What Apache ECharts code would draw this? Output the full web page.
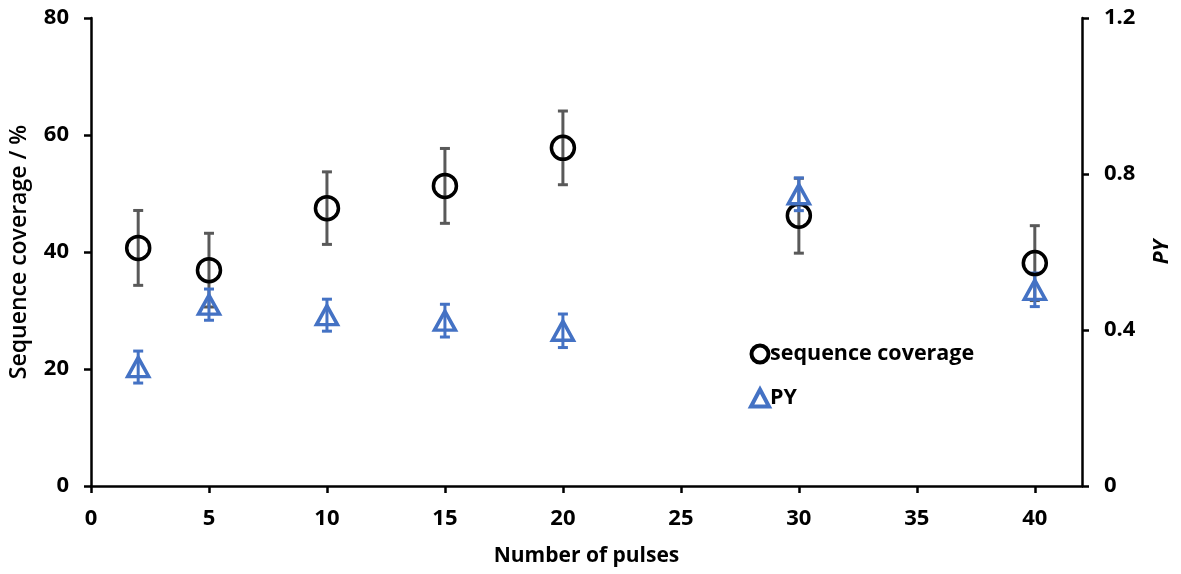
<!DOCTYPE html>
<html>
<head>
<meta charset="utf-8">
<script src="https://cdn.jsdelivr.net/npm/echarts@6/dist/echarts.min.js"></script>
<style>
  html, body { margin: 0; padding: 0; background: #fff; }
  #chart { width: 1181px; height: 574px; }
</style>
</head>
<body>
<div id="chart"></div>
<script>
// Number of pulses on the x axis
const pulses = [2, 5, 10, 15, 20, 30, 40];
// Sequence coverage (%) with standard deviation
const coverage = [40.7, 36.9, 47.5, 51.3, 57.8, 46.2, 38.1];
const coverageErr = [6.4, 6.3, 6.2, 6.4, 6.3, 6.4, 6.4];
// PY values with standard deviation
const py = [0.305, 0.465, 0.438, 0.424, 0.398, 0.748, 0.503];
const pyErr = [0.041, 0.040, 0.041, 0.042, 0.043, 0.042, 0.043];
// Tick values
const xTicks = [0, 5, 10, 15, 20, 25, 30, 35, 40];
const leftTicks = [0, 20, 40, 60, 80];
const rightTicks = [0, 0.4, 0.8, 1.2];

const FONT = 'Open Sans';
const BLUE = '#4472C4';
const GREY = '#595959';

function errorData(vals, errs) {
  return pulses.map((p, i) => [p, vals[i] - errs[i], vals[i] + errs[i]]);
}

function errorBars(color, yAxisIndex, data) {
  return {
    type: 'custom',
    xAxisIndex: 0,
    yAxisIndex: yAxisIndex,
    silent: true,
    z: 1,
    data: data,
    encode: { x: 0, y: [1, 2] },
    renderItem: function (params, api) {
      const x = api.value(0);
      const lo = api.coord([x, api.value(1)]);
      const hi = api.coord([x, api.value(2)]);
      const half = 5;
      const style = { stroke: color, lineWidth: 3, fill: null };
      return {
        type: 'group',
        children: [
          { type: 'line', shape: { x1: lo[0], y1: lo[1], x2: hi[0], y2: hi[1] }, style: style },
          { type: 'line', shape: { x1: lo[0] - half, y1: lo[1], x2: lo[0] + half, y2: lo[1] }, style: style },
          { type: 'line', shape: { x1: hi[0] - half, y1: hi[1], x2: hi[0] + half, y2: hi[1] }, style: style }
        ]
      };
    }
  };
}

const axisLine = { show: true, lineStyle: { color: '#000', width: 2.5 } };
const axisTick = { show: true, inside: false, length: 7, lineStyle: { color: '#000', width: 2.5 } };
const labelStyle = { color: '#000', fontFamily: FONT, fontWeight: 'bold', fontSize: 22 };
const nameStyle = { color: '#000', fontFamily: FONT, fontWeight: 'bold', fontSize: 21 };

const chart = echarts.init(document.getElementById('chart'), null, { renderer: 'canvas' });
chart.setOption({
  backgroundColor: '#fff',
  animation: false,
  grid: { left: 91, right: 97, top: 18, bottom: 88, containLabel: false },
  legend: {
    orient: 'vertical',
    left: 744,
    top: 338,
    itemGap: 22,
    itemWidth: 18,
    itemHeight: 17,
    textStyle: { color: '#000', fontFamily: FONT, fontWeight: 'bold', fontSize: 21.5, padding: [0, 0, 0, -4] },
    data: [
      { name: 'sequence coverage', icon: 'circle',
        itemStyle: { color: 'rgba(0,0,0,0)', borderColor: '#000', borderWidth: 4 } },
      { name: 'PY', icon: 'triangle',
        itemStyle: { color: 'rgba(0,0,0,0)', borderColor: BLUE, borderWidth: 4 } }
    ]
  },
  xAxis: {
    type: 'value',
    min: 0,
    max: 42,
    interval: 5,
    name: 'Number of pulses',
    nameLocation: 'middle',
    nameGap: 60,
    nameTextStyle: nameStyle,
    axisLine: axisLine,
    axisTick: Object.assign({}, axisTick, { customValues: xTicks }),
    axisLabel: Object.assign({}, labelStyle, { margin: 22, customValues: xTicks }),
    splitLine: { show: false }
  },
  yAxis: [
    {
      type: 'value',
      position: 'left',
      min: 0,
      max: 80,
      interval: 20,
      name: 'Sequence coverage / %',
      nameLocation: 'middle',
      nameGap: 60,
      nameRotate: 90,
      nameTextStyle: Object.assign({}, nameStyle, { fontWeight: 600, fontSize: 23 }),
      axisLine: axisLine,
      axisTick: Object.assign({}, axisTick, { customValues: leftTicks }),
      axisLabel: Object.assign({}, labelStyle, { margin: 22, customValues: leftTicks }),
      splitLine: { show: false }
    },
    {
      type: 'value',
      position: 'right',
      min: 0,
      max: 1.2,
      interval: 0.4,
      name: 'PY',
      nameLocation: 'middle',
      nameGap: 70,
      nameRotate: 90,
      nameTextStyle: Object.assign({}, nameStyle, { fontStyle: 'italic' }),
      axisLine: axisLine,
      axisTick: Object.assign({}, axisTick, { customValues: rightTicks }),
      axisLabel: Object.assign({}, labelStyle, { margin: 22, customValues: rightTicks }),
      splitLine: { show: false }
    }
  ],
  series: [
    errorBars(GREY, 0, errorData(coverage, coverageErr)),
    {
      name: 'sequence coverage',
      type: 'scatter',
      yAxisIndex: 0,
      z: 3,
      symbol: 'circle',
      symbolSize: 23,
      itemStyle: { color: 'rgba(0,0,0,0)', borderColor: '#000', borderWidth: 3.5, opacity: 1 },
      data: pulses.map((p, i) => [p, coverage[i]])
    },
    errorBars(BLUE, 1, errorData(py, pyErr)),
    {
      name: 'PY',
      type: 'scatter',
      yAxisIndex: 1,
      z: 4,
      symbol: 'triangle',
      symbolSize: [21, 19],
      itemStyle: { color: 'rgba(0,0,0,0)', borderColor: BLUE, borderWidth: 3.5, opacity: 1 },
      data: pulses.map((p, i) => [p, py[i]])
    }
  ]
});
</script>
</body>
</html>
